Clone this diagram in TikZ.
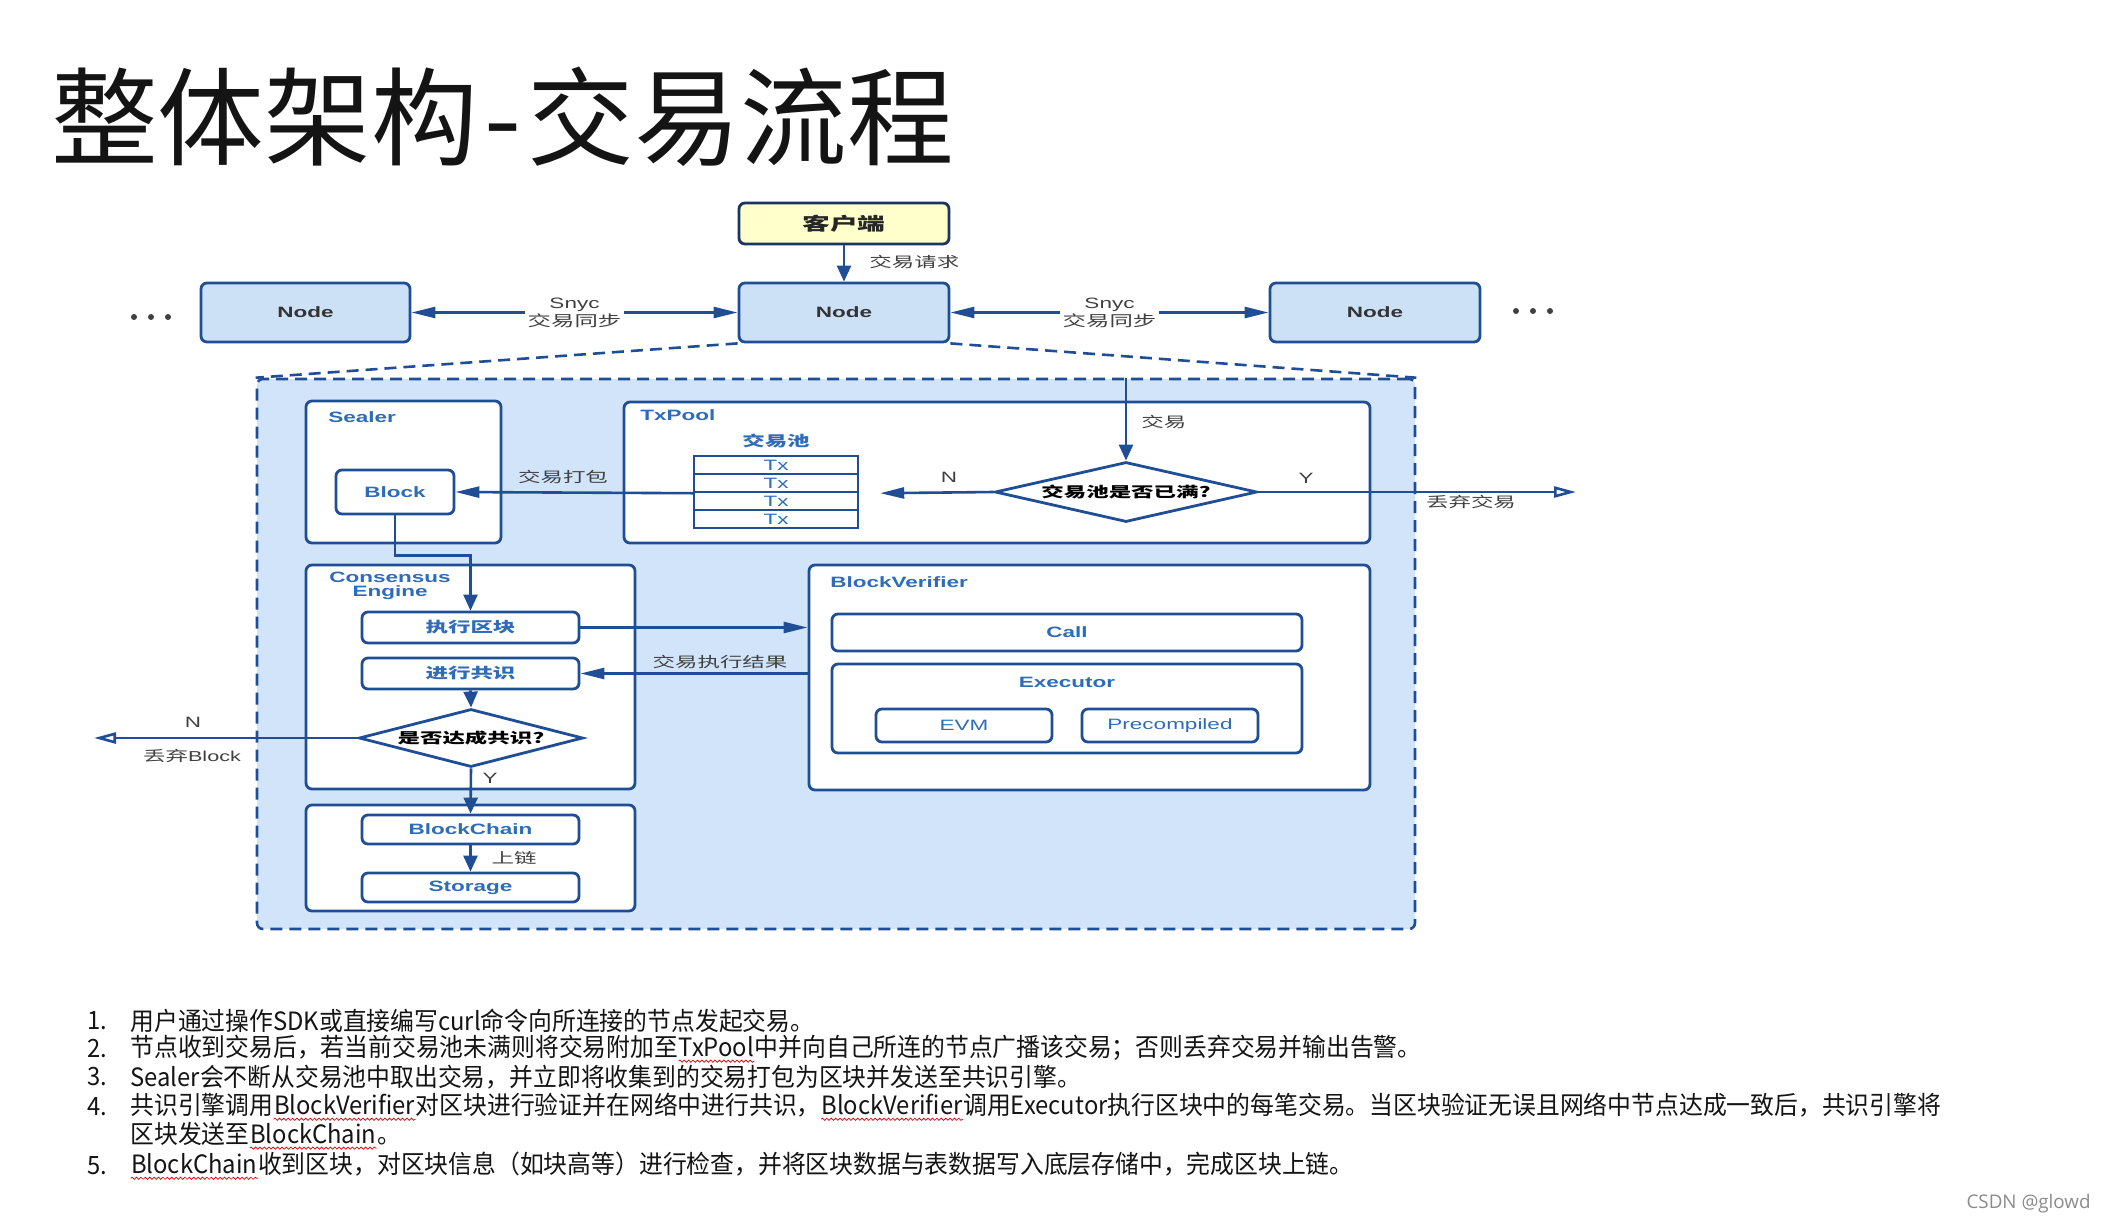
\documentclass[tikz,border=0pt]{standalone}
\usepackage{fontspec}
\setmainfont{Liberation Sans}
\newfontfamily\cjk{Noto Sans CJK SC}
\newfontfamily\cjkl[FakeStretch=0.945]{Noto Sans CJK SC}
\newfontfamily\dgl[FakeStretch=1.5]{Liberation Sans}
\newfontfamily\dgc[FakeStretch=1.56]{Noto Sans CJK SC}
\newfontfamily\wm{Open Sans}
\usetikzlibrary{arrows.meta,shapes.geometric,calc,decorations.pathmorphing}
\newcommand\rwave[1]{\tikz[baseline=(w.base),x=1pt,y=1pt]{\node[inner sep=0pt,anchor=base] (w) at (0,0) {#1}; \draw[red!85!black, line width=0.35pt, decorate, decoration={snake, amplitude=0.55pt, segment length=2.2pt}] ([yshift=-2.2pt]w.base west) -- ([yshift=-2.2pt]w.base east);}}
\definecolor{dblue}{RGB}{31,78,150}
\definecolor{lblue}{RGB}{46,108,186}
\definecolor{nfill}{RGB}{204,224,246}
\definecolor{rfill}{RGB}{209,228,249}
\definecolor{cfill}{RGB}{255,255,204}
\definecolor{cborder}{RGB}{28,52,96}
\definecolor{lgray}{RGB}{64,64,64}
\tikzset{
  sz/.style n args={2}{minimum width=#1*0.5pt, minimum height=#2*0.5pt},
  box/.style={draw=dblue, line width=1.4pt, rounded corners=3pt, fill=white, inner sep=0pt},
  nodebox/.style={box, fill=nfill, text=black!80, font=\dgl\bfseries\fontsize{7.5}{9}\selectfont},
  ibox/.style={box, text=lblue, font=\dgl\bfseries\fontsize{7.5}{9}\selectfont},
  icbox/.style={box, text=lblue, font=\dgc\bfseries\fontsize{7.2}{9}\selectfont},
  irbox/.style={box, text=lblue, font=\dgl\fontsize{7.5}{9}\selectfont},
  txrow/.style={draw=dblue, line width=1.2pt, fill=white, inner sep=0pt, sz={164}{18}, text=lblue, font=\dgl\fontsize{7.5}{9}\selectfont},
  dia/.style={diamond, draw=dblue, line width=1.4pt, fill=white, inner sep=0pt, text=black, font=\dgc\bfseries\fontsize{7.2}{9}\selectfont},
  blab/.style={inner sep=0pt, text=lblue, font=\dgl\bfseries\fontsize{7.5}{7}\selectfont},
  bclab/.style={inner sep=0pt, text=lblue, font=\dgc\bfseries\fontsize{7.2}{9}\selectfont},
  clab/.style={inner sep=0pt, text=lgray, font=\dgc\fontsize{7.2}{9}\selectfont},
  llab/.style={inner sep=0pt, text=lgray, font=\dgl\fontsize{7.5}{9}\selectfont},
  ln/.style={draw=dblue, line width=1.3pt},
  harr/.style={ln, -{Triangle[length=12pt,width=5.5pt]}},
  varr/.style={ln, -{Triangle[length=8pt,width=7pt]}},
  oarr/.style={ln, -{Triangle[open,length=11pt,width=5.5pt,fill=white]}},
  sarr/.style={ln, {Triangle[length=12pt,width=5.5pt]}-{Triangle[length=12pt,width=5.5pt]}},
  dashln/.style={draw=dblue, line width=1.3pt, dash pattern=on 6pt off 3.5pt},
  listtxt/.style={inner sep=0pt, anchor=west, text=black!92, font=\cjkl\fontsize{12.6}{14}\selectfont},
}
\begin{document}
\begin{tikzpicture}[x=0.5pt, y=-0.5pt]
\useasboundingbox (0,0) rectangle (2106,1222);
\fill[white] (0,0) rectangle (2106,1222);

% title
\node[anchor=base west, inner sep=0pt, text=black!92, font=\cjk\fontsize{53.3}{60}\selectfont] (title) at (51,157) {整体架构\hspace{0.06em}-\hspace{0.06em}交易流程};

% big region
\node[dashln, fill=rfill, rounded corners=3pt, sz={1158}{550}] (region) at (836,654) {};

% top nodes
\node[box, fill=cfill, draw=cborder, sz={210}{41}, text=black!85, font=\dgc\bfseries\fontsize{8.9}{10}\selectfont] (client) at (844,223.5) {客户端};
\node[nodebox, sz={210}{59}] (nodeM) at (844,312.5) {Node};
\node[nodebox, sz={209}{59}] (nodeL) at (305.5,312.5) {Node};
\node[nodebox, sz={210}{59}] (nodeR) at (1375,312.5) {Node};
\coordinate (dotsL) at (151,317);
\coordinate (dotsR) at (1533,311);
\foreach \dx in {-17,0,17} {
  \fill[black!75] ($(dotsL)+(\dx,0)$) circle[radius=3];
  \fill[black!75] ($(dotsR)+(\dx,0)$) circle[radius=3];
}

\draw[varr] (client.south) -- (nodeM.north);
\node[clab, anchor=west] (lreq) at (869,262) {交易请求};
\draw[sarr] (nodeM.west) -- node[fill=white, inner sep=1.5pt, align=center, text=lgray, font=\fontsize{7.5}{7.5}\selectfont] (syncL) {{\dgl Snyc}\\{\dgc 交易同步}} (nodeL.east);
\draw[sarr] (nodeM.east) -- node[fill=white, inner sep=1.5pt, align=center, text=lgray, font=\fontsize{7.5}{7.5}\selectfont] (syncR) {{\dgl Snyc}\\{\dgc 交易同步}} (nodeR.west);

\draw[dashln] (nodeM.south west) -- (region.north west);
\draw[dashln] (nodeM.south east) -- (region.north east);

% Sealer
\node[box, sz={195}{142}] (sealer) at (403.5,472) {};
\node[blab, anchor=west] (lsealer) at (328,417) {Sealer};
\node[ibox, sz={118}{44}] (block) at (395,492) {Block};

% TxPool
\node[box, sz={746}{141}] (txpool) at (997,472.5) {};
\node[blab, anchor=west] (ltxpool) at (640,415) {TxPool};
\node[bclab] (lpool) at (776,441) {交易池};
\node[txrow] (tx1) at (776,465) {Tx};
\node[txrow] (tx2) at (776,483) {Tx};
\node[txrow] (tx3) at (776,501) {Tx};
\node[txrow] (tx4) at (776,519) {Tx};
\node[dia, aspect=4.37, sz={262}{60}] (dia1) at (1126,492) {交易池是否已满?};

\draw[varr] (dia1.north |- region.north) -- (dia1.north);
\node[clab, anchor=west] (ltx) at (1141,422) {交易};
\coordinate (nEnd) at ($(tx2.south east)+(21,0)$);
\draw[harr] (dia1.west) -- (nEnd);
\node[llab] (lN1) at (949,477) {N};
\coordinate (dropTx) at (1576,492);
\draw[oarr] (dia1.east) -- (dropTx);
\node[llab] (lY1) at (1306,478) {Y};
\node[clab] (ldrop) at (1471,502) {丢弃交易};
\draw[harr] (tx2.south west) -- (block.east);
\node[clab] (lpack) at (563,477) {交易打包};

% Consensus engine
\node[box, sz={329}{224}] (consbox) at (470.5,677) {};
\node[blab, align=center] (lcons) at (390,586) {Consensus\\Engine};
\node[icbox, sz={217}{31}] (exec) at (470.5,627.5) {执行区块};
\node[icbox, sz={217}{31}] (cons) at (470.5,673.5) {进行共识};
\node[dia, aspect=3.86, sz={224}{58}] (dia2) at (471,738) {是否达成共识?};
\draw[varr] (block.south) -- ++(0,40) -| (exec.north);
\draw[varr] (cons.south) -- (dia2.north);
\coordinate (dropBlk) at (94,738);
\draw[oarr] (dia2.west) -- (dropBlk);
\node[llab] (lN2) at (193,722) {N};
\node[clab] (ldropb) at (192,756) {丢弃{\dgl Block}};

% BlockChain
\node[box, sz={329}{106}] (chainbox) at (470.5,858) {};
\node[ibox, sz={217}{29}] (bchain) at (470.5,829.5) {BlockChain};
\node[ibox, sz={217}{29}] (storage) at (470.5,887.5) {Storage};
\draw[varr] (dia2.south) -- (bchain.north);
\node[llab] (lY2) at (490,778) {Y};
\draw[varr] (bchain.south) -- (storage.north);
\node[clab] (lchain) at (514,858) {上链};

% BlockVerifier
\node[box, sz={561}{225}] (bv) at (1089.5,677.5) {};
\node[blab, anchor=west] (lbv) at (830,582) {BlockVerifier};
\node[ibox, sz={470}{37}] (call) at (1067,632.5) {Call};
\node[box, sz={470}{89}] (executor) at (1067,708.5) {};
\node[blab] (lexec) at (1067,682) {Executor};
\node[irbox, sz={176}{33}] (evm) at (964,725.5) {EVM};
\node[irbox, sz={176}{33}] (pre) at (1170,725.5) {Precompiled};

\draw[harr] (exec.east) -- (exec.east -| bv.west);
\draw[harr] (cons.east -| bv.west) -- (cons.east);
\node[clab] (lres) at (720,662) {交易执行结果};

% list
\node[listtxt] (n1) at (87,1021) {1.};
\node[listtxt] (t1) at (130,1021) {用户通过操作SDK或直接编写curl命令向所连接的节点发起交易。};
\node[listtxt] (n2) at (87,1049) {2.};
\node[listtxt] (t2) at (130,1049) {节点收到交易后，若当前交易池未满则将交易附加至\rwave{TxPool}中并向自己所连的节点广播该交易；否则丢弃交易并输出告警。};
\node[listtxt] (n3) at (87,1077) {3.};
\node[listtxt] (t3) at (130,1077) {Sealer会不断从交易池中取出交易，并立即将收集到的交易打包为区块并发送至共识引擎。};
\node[listtxt] (n4) at (87,1107) {4.};
\node[listtxt] (t4) at (130,1107) {共识引擎调用\rwave{BlockVerifier}对区块进行验证并在网络中进行共识，\rwave{BlockVerifier}调用Executor执行区块中的每笔交易。当区块验证无误且网络中节点达成一致后，共识引擎将};
\node[listtxt] (t4b) at (130,1136) {区块发送至\rwave{BlockChain}。};
\node[listtxt] (n5) at (87,1166) {5.};
\node[listtxt] (t5) at (130,1166) {\rwave{BlockChain}收到区块，对区块信息（如块高等）进行检查，并将区块数据与表数据写入底层存储中，完成区块上链。};

\node[anchor=east, inner sep=0pt, text=black!45, font=\wm\fontsize{9.4}{11}\selectfont] (wmark) at (2091,1204) {CSDN @glowd};
\end{tikzpicture}
\end{document}
